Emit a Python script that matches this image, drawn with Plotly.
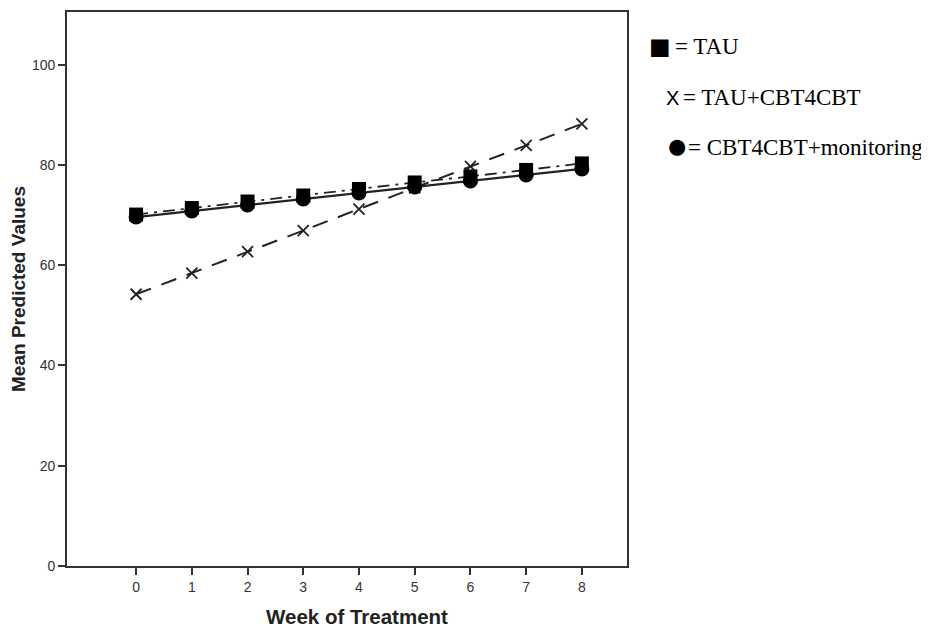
import plotly.graph_objects as go

weeks = [0, 1, 2, 3, 4, 5, 6, 7, 8]
tau = [70.1, 71.4, 72.7, 73.9, 75.2, 76.5, 77.7, 79.0, 80.3]
tau_cbt = [54.2, 58.4, 62.7, 66.9, 71.2, 75.4, 79.7, 83.9, 88.2]
cbt_mon = [69.6, 70.8, 72.0, 73.2, 74.4, 75.6, 76.8, 78.0, 79.2]
y_ticks = [0, 20, 40, 60, 80, 100]

fig = go.Figure()
fig.add_trace(go.Scatter(
    x=weeks, y=tau_cbt, mode="lines+markers", name="TAU+CBT4CBT",
    line=dict(color="#222", width=2, dash="16px,11px"),
    marker=dict(symbol="x-thin-open", size=11, line=dict(color="#222", width=1.8)),
))
fig.add_trace(go.Scatter(
    x=weeks, y=cbt_mon, mode="lines+markers", name="CBT4CBT+monitoring",
    line=dict(color="#222", width=2.2),
    marker=dict(symbol="circle", size=15, color="black"),
))
fig.add_trace(go.Scatter(
    x=weeks, y=tau, mode="lines+markers", name="TAU",
    line=dict(color="#222", width=1.8, dash="12px,6px,3px,6px"),
    marker=dict(symbol="square", size=14, color="black"),
))

legend_symbols = ["■", "X", "●"]
legend_symbol_sizes = [36, 20, 37]
legend_labels = ["= TAU", "= TAU+CBT4CBT", "= CBT4CBT+monitoring"]
sym_x = [659.5, 672, 677]
sym_y = [45, 96, 144]
txt_x = [673, 681, 686]
txt_y = [45, 96, 146]


def px(xp):
    return (xp - 67) / 560


def py(yp):
    return 1 - (yp - 10) / 556


for s, ss, lab, sx, sy, tx, ty in zip(legend_symbols, legend_symbol_sizes, legend_labels,
                                      sym_x, sym_y, txt_x, txt_y):
    fig.add_annotation(xref="paper", yref="paper", x=px(sx), y=py(sy),
                       xanchor="center", yanchor="middle", showarrow=False, text=s,
                       font=dict(family="Liberation Sans", size=ss, color="black"))
    fig.add_annotation(xref="paper", yref="paper", x=px(tx), y=py(ty),
                       xanchor="left", yanchor="middle", showarrow=False, text=lab,
                       font=dict(family="Liberation Serif", size=23, color="black"))

# x-axis title (slightly right of centre, as in the reference)
fig.add_annotation(xref="paper", yref="paper", x=px(357), y=py(617),
                   xanchor="center", yanchor="middle", showarrow=False,
                   text="<b>Week of Treatment</b>",
                   font=dict(family="Liberation Sans", size=20.5, color="#222"))

fig.update_layout(
    width=921, height=624,
    margin=dict(l=59, r=302, t=2, b=66),
    paper_bgcolor="white", plot_bgcolor="white",
    showlegend=False,
    font=dict(family="Liberation Sans", color="#222"),
)
fig.update_xaxes(
    range=[-1.24, 8.81], tickvals=weeks, ticks="outside", ticklen=7, tickwidth=1.6,
    tickcolor="#333", showline=True, linecolor="#333", linewidth=1.6, mirror=True,
    showgrid=False, zeroline=False, tickfont=dict(size=14, color="#333"),
)
fig.update_yaxes(
    range=[0, 110.5], tickvals=y_ticks, ticks="outside", ticklen=7, tickwidth=1.6,
    tickcolor="#333", showline=True, linecolor="#333", linewidth=1.6, mirror=True,
    showgrid=False, zeroline=False, tickfont=dict(size=14, color="#333"),
    title=dict(text="<b>Mean Predicted Values</b>", font=dict(size=19, color="#222"), standoff=3),
)
fig.write_html("out.html")
